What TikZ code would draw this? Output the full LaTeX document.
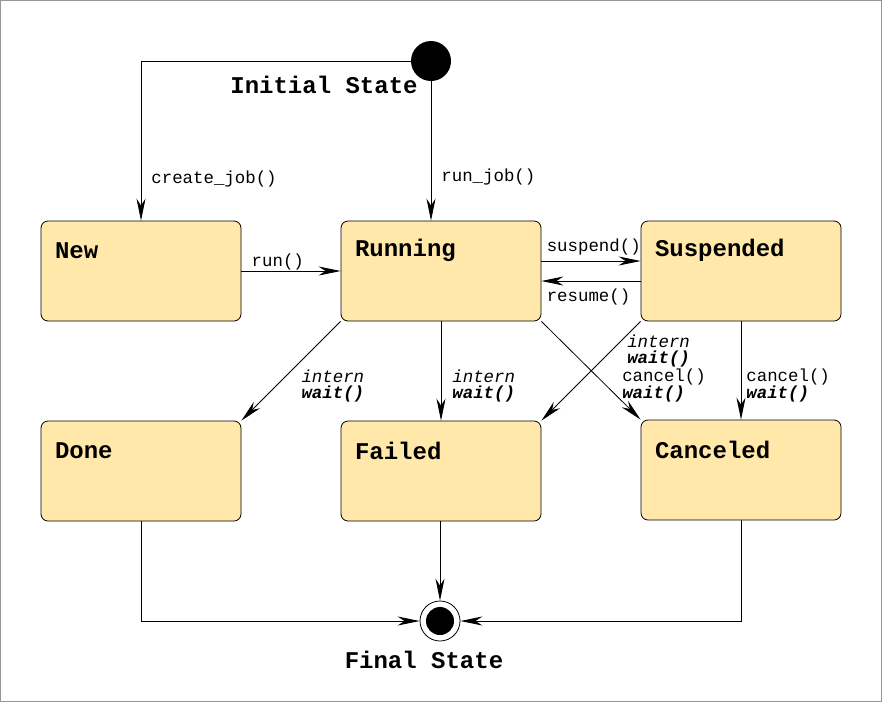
\documentclass[tikz,border=0pt]{standalone}
\usepackage{fontspec}
\setmonofont{Liberation Mono}
\usetikzlibrary{arrows.meta,positioning}
\definecolor{StateFill}{RGB}{255,232,170}
\definecolor{FrameGray}{RGB}{150,150,150}

\begin{document}
\begin{tikzpicture}[x=1pt, y=-1pt, line width=0.8pt,
	state/.style={draw, rounded corners=7pt, fill=StateFill, minimum width=200pt, minimum height=100pt, inner sep=0pt},
	statename/.style={font=\ttfamily\bfseries\fontsize{24}{28}\selectfont, inner sep=0pt},
	trans/.style={font=\ttfamily\fontsize{17.4}{15.5}\selectfont, inner sep=0pt, align=left},
	startdot/.style={circle, fill=black, minimum size=40pt, inner sep=0pt},
	enddot/.style={circle, draw, minimum size=40pt, inner sep=0pt},
	arr/.style={-{Stealth[length=22pt, width=9pt, inset=7pt]}}
	]
	\useasboundingbox (0,0) rectangle (882,702);
	\draw[FrameGray] (0.5,0.5) rectangle (881.5,701.5);
	% states
	\node[state] (new) at (141,271) {};
	\node[state] (running) at (441,271) {};
	\node[state] (suspended) at (741,271) {};
	\node[state] (done) at (141,471) {};
	\node[state] (failed) at (441,471) {};
	\node[state] (canceled) at (741,470) {};
	\node[statename, anchor=west] (newname) at ([xshift=14pt, yshift=-30pt]new.north west) {New};
	\node[statename, anchor=west] (runningname) at ([xshift=14pt, yshift=-30pt]running.north west) {Running};
	\node[statename, anchor=west] (suspendedname) at ([xshift=14pt, yshift=-30pt]suspended.north west) {Suspended};
	\node[statename, anchor=west] (donename) at ([xshift=14pt, yshift=-30pt]done.north west) {Done};
	\node[statename, anchor=west] (failedname) at ([xshift=14pt, yshift=-30pt]failed.north west) {Failed};
	\node[statename, anchor=west] (canceledname) at ([xshift=14pt, yshift=-30pt]canceled.north west) {Canceled};
	% initial and final
	\node[startdot] (init) at (431,61) {};
	\node[statename] (initname) at (324,85) {Initial State};
	\node[enddot] (final) at (440,621) {};
	\fill (final.center) circle (14pt);
	\node[statename] (finalname) at (424,660) {Final State};
	% transitions
	\draw[arr] (init.west) -| (new.north) node[trans, pos=0.87, anchor=west, xshift=10pt] {create\_job()};
	\draw[arr] (init.south) -- (init.south |- running.north) node[trans, pos=0.69, anchor=west, xshift=10pt] {run\_job()};
	\draw[arr] (new) -- (running) node[trans, pos=0.1, anchor=base west, yshift=5pt] {run()};
	\draw[arr] ([yshift=10pt]running.east) -- ([yshift=10pt]suspended.west) node[trans, pos=0.05, anchor=base west, yshift=10pt] {suspend()};
	\draw[arr] ([yshift=-10pt]suspended.west) -- ([yshift=-10pt]running.east) node[trans, pos=0.95, anchor=base west, yshift=-20pt] {resume()};
	\draw[arr] (running.south west) -- (done.north east) node[trans, pos=0.65, anchor=west, xshift=25pt] {\textit{intern}\\\textbf{\textit{wait()}}};
	\draw[arr] (running.south) -- (failed.north) node[trans, pos=0.65, anchor=west, xshift=11pt] {\textit{intern}\\\textbf{\textit{wait()}}};
	\draw[arr] (running.south east) -- (canceled.north west) node[trans, pos=0.65, anchor=west, xshift=16pt] {cancel()\\\textbf{\textit{wait()}}};
	\draw[arr] (suspended.south west) -- (failed.north east) node[trans, pos=0.30, anchor=west, xshift=16pt] {\textit{intern}\\\textbf{\textit{wait()}}};
	\draw[arr] (suspended.south) -- (canceled.north) node[trans, pos=0.65, anchor=west, xshift=5pt] {cancel()\\\textbf{\textit{wait()}}};
	\draw[arr] (done.south) |- (final.west);
	\draw[arr] (final.north |- failed.south) -- (final.north);
	\draw[arr] (canceled.south) |- (final.east);
\end{tikzpicture}
\end{document}
